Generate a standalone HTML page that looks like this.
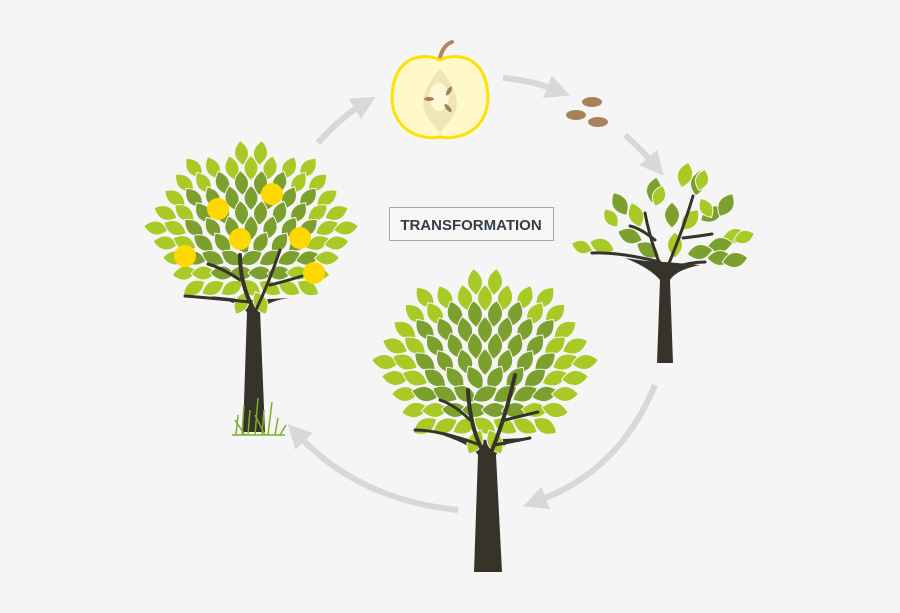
<!DOCTYPE html>
<html><head><meta charset="utf-8"><style>
html,body{margin:0;padding:0;background:#f5f5f5;}
svg{display:block}
</style></head><body>
<svg id="s" width="900" height="613" viewBox="0 0 900 613" xmlns="http://www.w3.org/2000/svg">
<rect width="900" height="613" fill="#f5f5f5"/>
<defs>
<marker id="ah" markerWidth="4" markerHeight="4" refX="1" refY="2" orient="auto" markerUnits="strokeWidth">
<path d="M0,0 L4,2 L0,4 Z" fill="#d8d8d8"/></marker>
</defs>
<g fill="none" stroke="#d8d8d8" stroke-width="6">
<path d="M318,143 Q340,118 360,106" marker-end="url(#ah)"/>
<path d="M503,78 Q530,80 553,89" marker-end="url(#ah)"/>
<path d="M625,135 Q640,148 652,162" marker-end="url(#ah)"/>
<path d="M655,385 Q620,470 540,500" marker-end="url(#ah)"/>
<path d="M458,510 Q360,500 300,437" marker-end="url(#ah)"/>
</g>
<path d="M440,58 Q443,45 452,42" stroke="#b08a5e" stroke-width="4" fill="none" stroke-linecap="round"/>
<path d="M440,60 C425,52 393,55 392,97 C392,128 418,141 440,137 C462,141 488,128 488,97 C487,55 455,52 440,60 Z" fill="#fff8c8" stroke="#ffe000" stroke-width="3"/>
<path d="M440,68 C430,82 420,95 424,110 C428,120 436,126 440,134 C444,126 452,120 456,110 C460,95 450,82 440,68 Z" fill="#efe6b8"/>
<ellipse cx="439" cy="97" rx="10" ry="14" fill="#fff8d8"/>
<g fill="#a57f55">
<ellipse cx="449" cy="91" rx="2" ry="5" transform="rotate(30 449 91)"/>
<ellipse cx="429" cy="99" rx="5" ry="2"/>
<ellipse cx="448" cy="108" rx="2" ry="5" transform="rotate(-40 448 108)"/>
</g>
<g fill="#a8825a">
<ellipse cx="592" cy="102" rx="10" ry="5"/>
<ellipse cx="576" cy="115" rx="10" ry="5"/>
<ellipse cx="598" cy="122" rx="10" ry="5"/>
</g>
<rect x="389.5" y="207.5" width="164" height="33" fill="#f7f7f7" stroke="#a8a8a8"/>
<text x="471" y="230" text-anchor="middle" font-family="Liberation Sans, sans-serif" font-weight="bold" font-size="15" fill="#343e48">TRANSFORMATION</text>
<g fill="#36342a">
<path d="M474,572 L502,572 L496,455 Q505,440 525,438 L480,440 Q460,438 442,435 Q472,445 478,455 Z"/>
<path d="M243,432 L265,432 L260,310 Q270,300 290,298 L250,300 Q230,298 210,296 Q238,302 247,312 Z"/>
<path d="M657,363 L673,363 L670,280 Q676,270 700,265 L665,262 Q650,262 625,258 Q650,268 660,280 Z"/>
</g>
<g id="leaves"></g>
<g fill="none" stroke="#36342a" stroke-linecap="round">
<path d="M485,455 Q470,430 468,390" stroke-width="4"/>
<path d="M490,455 Q505,420 515,375" stroke-width="4"/>
<path d="M470,420 Q455,405 440,400" stroke-width="3"/>
<path d="M505,420 Q525,415 538,412" stroke-width="3"/>
<path d="M480,445 Q440,430 415,430" stroke-width="3"/>
<path d="M495,445 Q520,440 530,438" stroke-width="3"/>
<path d="M254,310 Q240,285 240,255" stroke-width="4"/>
<path d="M256,310 Q270,280 280,250" stroke-width="3"/>
<path d="M240,280 Q222,268 208,264" stroke-width="3"/>
<path d="M270,285 Q290,280 302,276" stroke-width="3"/>
<path d="M250,302 Q210,298 185,296" stroke-width="3"/>
<path d="M662,270 Q650,240 645,213" stroke-width="3"/>
<path d="M667,268 Q683,230 693,196" stroke-width="3"/>
<path d="M655,240 Q640,228 630,226" stroke-width="3"/>
<path d="M683,238 Q700,236 712,234" stroke-width="3"/>
<path d="M660,262 Q620,252 592,253" stroke-width="3"/>
<path d="M672,268 Q690,262 705,262" stroke-width="3"/>
</g>
<g fill="#ffd800">
<circle cx="218" cy="209" r="11"/><circle cx="272" cy="194" r="11"/><circle cx="240" cy="239" r="11"/>
<circle cx="300" cy="238" r="11"/><circle cx="185" cy="256" r="11"/><circle cx="314" cy="273" r="11"/>
</g>
<g stroke="#7fae2a" stroke-width="1.5" fill="none">
<path d="M232,435 L285,435 M236,435 L238,415 M242,435 L244,405 M248,435 L250,410 M255,435 L258,398 M262,435 L264,410 M268,435 L272,402 M275,435 L278,418 M280,435 L286,425 M245,435 L235,420 M265,435 L255,415"/>
</g>
</svg>
<script>
var g=document.getElementById('leaves');
var L='#a8ca26',D='#7ba02e';
function leaf(x,y,w,h,a,c){
 var p=document.createElementNS('http://www.w3.org/2000/svg','path');
 p.setAttribute('d','M0,'+(-h/2)+' Q'+w+',0 0,'+(h/2)+' Q'+(-w)+',0 0,'+(-h/2)+'Z');
 p.setAttribute('fill',c);p.setAttribute('stroke','#f5f5f5');p.setAttribute('stroke-width','1');
 p.setAttribute('transform','translate('+x+','+y+') rotate('+a+')');g.appendChild(p);
}
function tree(cx,cy,rx,ry,w,h,dx,dy){
 for(var j=-20;j<=20;j++)for(var i=-20;i<=20;i++){
  var x=cx+i*dx+(j&1?dx/2:0),y=cy+j*dy;
  var nx=(x-cx)/rx,ny=(y-cy)/ry,d=Math.sqrt(nx*nx+ny*ny);
  if(d>1)continue;
  var a=Math.atan2(x-cx,-(y-cy))*180/Math.PI*Math.min(1,d*0.9);
  var c=d>0.72?L:D;
  leaf(x,y,w,h,a,c);
 }
}
tree(485,362,100,82,15,27,20,16);
tree(251,228,96,76,14,25,19,15);
var sm=[[602,246,-70],[630,236,-70],[648,250,-60],[636,215,-20],[654,190,10],[620,204,-30],[685,175,15],[698,183,10],[672,215,0],[690,220,40],[712,214,60],[726,205,30],[735,236,80],[720,245,80],[700,252,80],[675,245,0],[720,258,90],[735,260,80]];
sm.forEach(function(s,k){leaf(s[0],s[1],15,26,s[2],k%3==0?L:D);});
leaf(582,247,13,22,-70,L);leaf(611,218,13,22,-35,L);leaf(706,208,13,22,-30,L);leaf(744,237,13,22,70,L);leaf(659,196,13,22,20,L);leaf(702,180,13,22,15,L);
</script>
</body></html>
